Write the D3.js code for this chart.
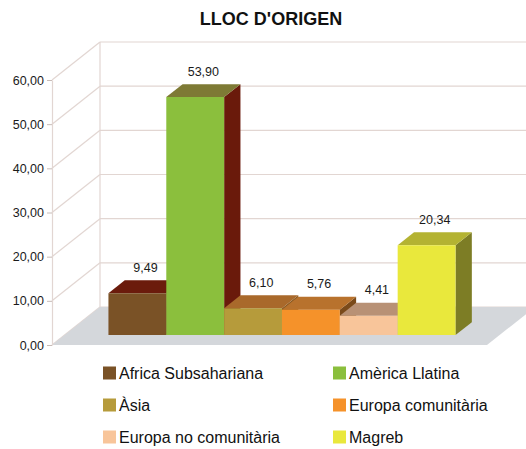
<!DOCTYPE html>
<html>
<head>
<meta charset="utf-8">
<script src="https://cdn.jsdelivr.net/npm/d3@7"></script>
<style>
  body { margin: 0; background: #fff; }
  text { font-family: "Liberation Sans", Arial, sans-serif; }
</style>
</head>
<body>
<svg id="chart" width="526" height="449"></svg>
<script>
// data
var categories = ["Africa Subsahariana", "Amèrica Llatina", "Àsia", "Europa comunitària", "Europa no comunitària", "Magreb"];
var values = [9.49, 53.90, 6.10, 5.76, 4.41, 20.34];
var tickValues = [0, 10, 20, 30, 40, 50, 60];
var frontColors = ["#7a5226", "#8bbf3d", "#b69b3b", "#f5922a", "#f8c59a", "#e9e83c"];
var topColors = ["#6b1b0c", "#7e7a35", "#a9692b", "#b8722d", "#b89175", "#b4b332"];
var sideColors = ["#6b1b0c", "#6a1a0b", "#8a5a22", "#7a4a1a", "#9a7a60", "#7d7d25"];

var svg = d3.select("#chart");
var W = 526;

// pseudo 3D: front plane + depth offset
var depthX = 48, depthY = -38;
var barZ0 = 0.26, barZ1 = 0.6;

var x = d3.scaleBand().domain(categories).range([52, 487]).paddingInner(0).paddingOuter(0.76);
var y = d3.scaleLinear().domain([0, 60]).range([345, 80]);

function P(px, v, z) {
    return [px + z * depthX, y(v) + z * depthY];
}
function fmt(v) {
    return d3.format(".2f")(v).replace(".", ",");
}

// title
svg.append("text")
  .attr("x", 271).attr("y", 25)
  .attr("text-anchor", "middle")
  .style("font-size", "18px").style("font-weight", "bold").style("fill", "#111")
  .text("LLOC D'ORIGEN");

var grid = "#e2d6d2";

// back wall gridlines
var backLeft = P(52, 0, 1)[0];
svg.append("g").selectAll("line.back")
  .data(tickValues).enter().append("line")
  .attr("x1", backLeft).attr("x2", W)
  .attr("y1", function(d) { return P(52, d, 1)[1]; })
  .attr("y2", function(d) { return P(52, d, 1)[1]; })
  .style("stroke", grid).style("stroke-width", 1.2);
svg.append("line")
  .attr("x1", backLeft).attr("x2", backLeft)
  .attr("y1", P(52, 0, 1)[1]).attr("y2", P(52, 60, 1)[1])
  .style("stroke", grid).style("stroke-width", 1.2);

// side wall diagonals
svg.append("g").selectAll("line.side")
  .data(tickValues).enter().append("line")
  .attr("x1", 52).attr("y1", function(d) { return y(d); })
  .attr("x2", backLeft).attr("y2", function(d) { return P(52, d, 1)[1]; })
  .style("stroke", grid).style("stroke-width", 1.2);

// floor
var floorPts = [P(52, 0, 0), P(487, 0, 0), P(487, 0, 1), P(52, 0, 1)];
svg.append("polygon")
  .attr("points", floorPts.map(function(p) { return p.join(","); }).join(" "))
  .style("fill", "#d4d7db");

// bars, left to right so later fronts hide earlier sides
var bw = x.bandwidth();
var bars = svg.append("g").selectAll("g.bar")
  .data(values).enter().append("g").attr("class", "bar");

function poly(pts) { return pts.map(function(p) { return p.join(","); }).join(" "); }

bars.append("polygon")
  .attr("points", function(d, i) {
      var x1 = x(categories[i]) + bw;
      return poly([P(x1, 0, barZ0), P(x1, d, barZ0), P(x1, d, barZ1), P(x1, 0, barZ1)]);
  })
  .style("fill", function(d, i) { return sideColors[i]; });
bars.append("polygon")
  .attr("points", function(d, i) {
      var x0 = x(categories[i]), x1 = x0 + bw;
      return poly([P(x0, d, barZ0), P(x1, d, barZ0), P(x1, d, barZ1), P(x0, d, barZ1)]);
  })
  .style("fill", function(d, i) { return topColors[i]; });
bars.append("polygon")
  .attr("points", function(d, i) {
      var x0 = x(categories[i]), x1 = x0 + bw;
      return poly([P(x0, 0, barZ0), P(x1, 0, barZ0), P(x1, d, barZ0), P(x0, d, barZ0)]);
  })
  .style("fill", function(d, i) { return frontColors[i]; });

// value labels
svg.append("g").selectAll("text")
  .data(values).enter().append("text")
  .attr("x", function(d, i) { return P(x(categories[i]) + bw / 2, d, (barZ0 + barZ1) / 2)[0]; })
  .attr("y", function(d, i) { return P(x(categories[i]) + bw / 2, d, (barZ0 + barZ1) / 2)[1] - 15; })
  .attr("text-anchor", "middle")
  .style("font-size", "12.5px").style("fill", "#1a1a1a")
  .text(fmt);

// front value axis
var axis = svg.append("g")
  .attr("transform", "translate(52,0)")
  .call(d3.axisLeft(y).tickValues(tickValues).tickSize(5).tickSizeOuter(0).tickPadding(3).tickFormat(fmt));
axis.select(".domain").style("stroke", grid).style("stroke-width", 1.2);
axis.selectAll(".tick line").style("stroke", "#c8bcb8");
axis.selectAll(".tick text")
  .style("font-size", "12.5px").style("fill", "#1a1a1a")
  .style("font-family", "'Liberation Sans', Arial, sans-serif");

// legend
var legendCols = [103, 333], legendRows = [373, 405, 437];
var legend = svg.append("g").selectAll("g.leg")
  .data(categories).enter().append("g")
  .attr("transform", function(d, i) {
      return "translate(" + legendCols[i % 2] + "," + legendRows[Math.floor(i / 2)] + ")";
  });
legend.append("rect")
  .attr("x", 0).attr("y", -6.5).attr("width", 13).attr("height", 13)
  .style("fill", function(d, i) { return frontColors[i]; });
legend.append("text")
  .attr("x", 16).attr("y", 0).attr("dy", "0.35em")
  .style("font-size", "16px").style("fill", "#111")
  .text(function(d) { return d; });
</script>
</body>
</html>
